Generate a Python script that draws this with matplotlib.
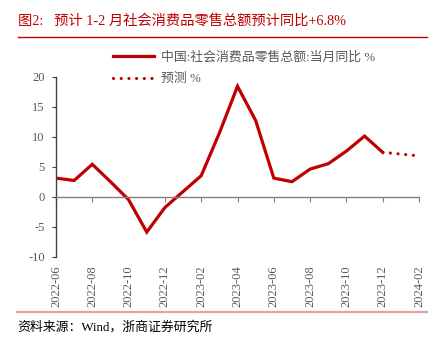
import matplotlib
matplotlib.use("Agg")
import matplotlib.pyplot as plt
from matplotlib.lines import Line2D
import pandas as pd

# ---- data ----
actual_months = ['2022-06', '2022-07', '2022-08', '2022-09', '2022-10', '2022-11', '2022-12',
                 '2023-02', '2023-03', '2023-04', '2023-05', '2023-06', '2023-07', '2023-08',
                 '2023-09', '2023-10', '2023-11', '2023-12']
actual_values = [3.1, 2.7, 5.4, 2.5, -0.5, -5.9, -1.8,
                 3.5, 10.6, 18.4, 12.7, 3.1, 2.5, 4.6,
                 5.5, 7.6, 10.1, 7.4]
forecast_months = ['2023-12', '2024-01', '2024-02']
forecast_values = [7.4, 7.1, 6.8]
tick_labels = ['2022-06', '2022-08', '2022-10', '2022-12', '2023-02', '2023-04',
               '2023-06', '2023-08', '2023-10', '2023-12', '2024-02']
y_ticks = [-10, -5, 0, 5, 10, 15, 20]

title = '图2:   预计 1-2 月社会消费品零售总额预计同比+6.8%'
legend_labels = ['中国:社会消费品零售总额:当月同比 %', '预测 %']
source = '资料来源：Wind，浙商证券研究所'

RED = '#C00000'
GRAY = '#595959'
FAM = ['Liberation Serif', 'Noto Sans CJK SC', 'DejaVu Sans']
plt.rcParams['font.family'] = FAM

base = pd.Period(tick_labels[0], 'M').ordinal
def pos(ms):
    return [pd.Period(m, 'M').ordinal - base for m in ms]

W, H = 431, 343
fig = plt.figure(figsize=(W / 100, H / 100), dpi=100)
ax = fig.add_axes([56 / W, (H - 256.7) / H, (419 - 56) / W, 180 / H])

ax.plot(pos(actual_months), actual_values, color=RED, lw=2.3, solid_joinstyle='miter')
ax.plot(pos(forecast_months), forecast_values, color=RED, lw=2.3,
        linestyle=(0, (0.01, 2.4)), dash_capstyle='round')

ax.set_xlim(0, pos([tick_labels[-1]])[0])
ax.set_ylim(-10, 20)
ax.set_yticks(y_ticks)
ax.set_yticklabels([str(v) for v in y_ticks])
ax.set_xticks(pos(tick_labels))

for s in ['top', 'right']:
    ax.spines[s].set_visible(False)
ax.spines['bottom'].set_position(('data', 0))
ax.spines['bottom'].set_color('#808080')
ax.spines['bottom'].set_linewidth(1.0)
ax.spines['left'].set_color('#404040')
ax.spines['left'].set_linewidth(1.0)
ax.tick_params(axis='x', direction='out', length=3.5, color='#808080', labelbottom=False)
ax.tick_params(axis='y', direction='out', length=3, color='#404040', labelsize=9,
               labelcolor=GRAY, pad=5)

sec = ax.secondary_xaxis(0)
sec.set_xticks(pos(tick_labels))
sec.set_xticklabels(tick_labels, rotation=90, fontsize=9, color=GRAY)
sec.tick_params(length=0, pad=6)
sec.spines['bottom'].set_visible(False)

handles = [Line2D([], [], color=RED, lw=2.3),
           Line2D([], [], color=RED, lw=2.3, linestyle=(0, (0.01, 2.4)), dash_capstyle='round')]
leg = ax.legend(handles, legend_labels, loc='upper left', bbox_to_anchor=(113 / W, 1 - 51 / H),
                bbox_transform=fig.transFigure, frameon=False, fontsize=9.3, handlelength=3.2,
                handletextpad=0.55, labelspacing=0.75, borderpad=0, borderaxespad=0)
for t in leg.get_texts():
    t.set_color(GRAY)

fig.text(18 / W, 1 - 21 / H, title, color=RED, fontsize=10.3, va='center', ha='left')
fig.add_artist(Line2D([18 / W, 427 / W], [1 - 37 / H, 1 - 37 / H], color=RED, lw=1.0))
fig.add_artist(Line2D([17 / W, 427 / W], [1 - 312 / H, 1 - 312 / H], color='#E8A0A0', lw=1.6))
fig.text(17 / W, 1 - 327 / H, source, color='black', fontsize=9.3, va='center', ha='left')

fig.savefig('out.png', dpi=100)
